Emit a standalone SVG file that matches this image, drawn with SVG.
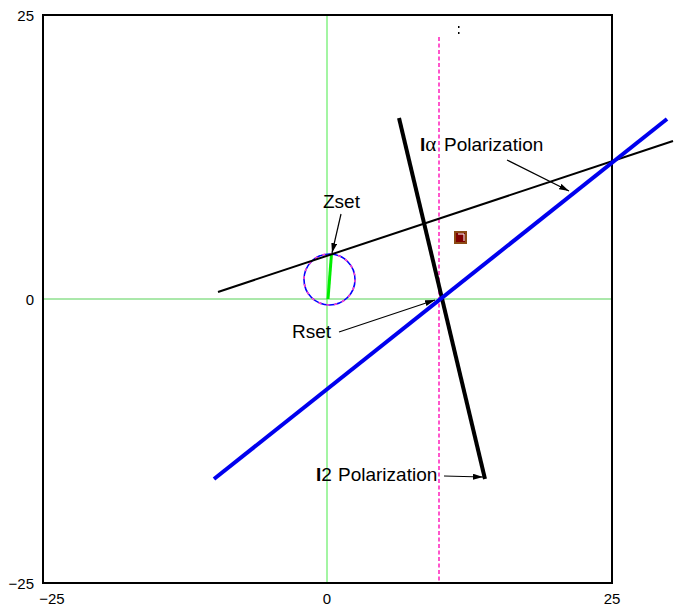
<svg xmlns="http://www.w3.org/2000/svg" width="679" height="608" viewBox="0 0 679 608">
<style>
.lbl{font-family:"Liberation Sans",Arial,sans-serif;font-size:19px;fill:#000}
.ax{font-family:"Liberation Sans",Arial,sans-serif;font-size:15px;fill:#000}
.b{font-weight:bold}
.arr{stroke:#000;stroke-width:1.2;fill:none;marker-end:url(#ah)}
</style>
<defs>
<marker id="ah" viewBox="0 0 10 6" refX="10" refY="3" markerWidth="10" markerHeight="6" markerUnits="userSpaceOnUse" orient="auto">
<path d="M0,0 L10,3 L0,6 z" fill="#000"/>
</marker>
</defs>
<rect width="679" height="608" fill="#fff"/>
<g id="axes">
<line x1="327" y1="15" x2="327" y2="583" stroke="#66ee66" stroke-width="1.2"/>
<line x1="43" y1="299" x2="612" y2="299" stroke="#44cc44" stroke-width="0.9"/>
<line x1="439" y1="37" x2="439" y2="583" stroke="#ff55cc" stroke-width="2" stroke-dasharray="4,2.5"/>
<rect x="43" y="15" width="569" height="568" fill="none" stroke="#000" stroke-width="2"/>
<text class="ax" x="34" y="21" text-anchor="end">25</text>
<text class="ax" x="34" y="305" text-anchor="end">0</text>
<text class="ax" x="34" y="589" text-anchor="end">−25</text>
<text class="ax" x="52" y="604" text-anchor="middle">−25</text>
<text class="ax" x="327" y="604" text-anchor="middle">0</text>
<text class="ax" x="612" y="604" text-anchor="middle">25</text>
<rect x="458" y="26" width="1.5" height="2" fill="#000"/>
<rect x="458" y="32" width="1.5" height="2" fill="#000"/>
</g>
<g id="circle">
<circle cx="329.5" cy="279.5" r="25.5" fill="none" stroke="#0000ff" stroke-width="1.6"/>
<circle cx="329.5" cy="279.5" r="25.5" fill="none" stroke="#ff44cc" stroke-width="1.6" stroke-dasharray="3,5"/>
<line x1="328" y1="299" x2="331.5" y2="254" stroke="#00ee00" stroke-width="3"/>
</g>
<g id="lines">
<line x1="218" y1="292" x2="673" y2="141" stroke="#000" stroke-width="2"/>
<line x1="399" y1="118" x2="485" y2="479" stroke="#000" stroke-width="4"/>
<line x1="214" y1="479" x2="667" y2="119" stroke="#0000ee" stroke-width="4"/>
</g>
<g id="marker-square">
<rect x="455" y="232" width="11" height="11" fill="#800000" stroke="#8b4a14" stroke-width="2"/>
<polyline points="458,234 464,234 464,241" fill="none" stroke="#fff" stroke-width="1"/>
</g>
<g id="labels">
<text class="lbl" x="323" y="208">Zset</text>
<text class="lbl" x="292" y="338">Rset</text>
<text class="lbl" x="420" y="151"><tspan class="b">I</tspan><tspan font-family="'Liberation Serif',serif" font-size="21">α</tspan><tspan x="444">Polarization</tspan></text>
<text class="lbl" x="316" y="481"><tspan class="b">I</tspan>2<tspan x="338">Polarization</tspan></text>
</g>
<g id="connectors">
<line class="arr" x1="341" y1="214" x2="332" y2="253"/>
<line class="arr" x1="339" y1="332" x2="435" y2="300"/>
<line class="arr" x1="507" y1="160" x2="569" y2="191"/>
<line class="arr" x1="444" y1="476" x2="483" y2="477"/>
</g>
</svg>
